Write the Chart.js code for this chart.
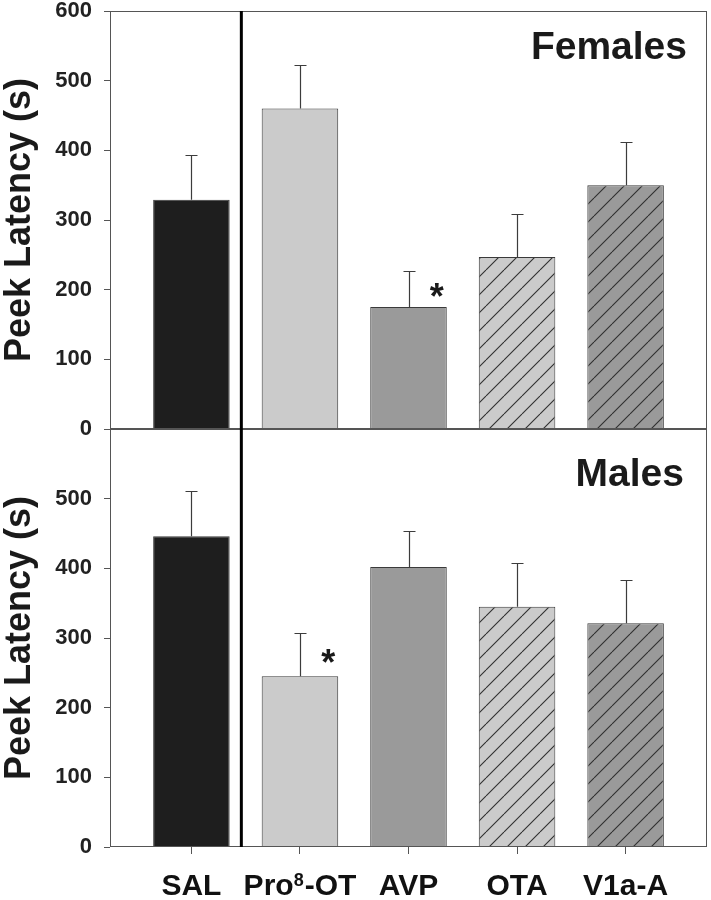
<!DOCTYPE html>
<html>
<head>
<meta charset="utf-8">
<script src="https://cdn.jsdelivr.net/npm/chart.js@4.4.1/dist/chart.umd.min.js"></script>
<style>
    body { margin: 0; background: #fff; }
    #wrap { position: relative; width: 711px; height: 900px; }
    canvas { position: absolute; left: 0; }
</style>
</head>
<body>
<div id="wrap">
    <canvas id="femaleChart" width="711" height="440" style="top:0"></canvas>
    <canvas id="maleChart" width="711" height="482" style="top:418px"></canvas>
</div>
<script>
// Data
const categories = ['SAL', 'Pro\u2078-OT', 'AVP', 'OTA', 'V1a-A'];
const femaleMeans = [329, 460, 175, 247, 350];
const femaleErr = [65, 62, 52, 62, 62];
const femaleSig = [false, false, true, false, false];
const maleMeans = [446, 245, 402, 345, 321];
const maleErr = [65, 62, 52, 62, 62];
const maleSig = [false, true, false, false, false];
const yTicks = [0, 100, 200, 300, 400, 500, 600];
const yTitle = 'Peek Latency (s)';
const dividerAt = 1.46; // between SAL and the drug groups

// Styles
const FONT = '"Liberation Sans", Arial, sans-serif';
const fills = ['#1e1e1e', '#cbcbcb', '#9a9a9a', '#cbcbcb', '#9a9a9a'];
const hatched = [false, false, false, true, true];
const SUPERS = '\u2070\u00b9\u00b2\u00b3\u2074\u2075\u2076\u2077\u2078\u2079';

function hatch(base) {
    const P = 18;
    const c = document.createElement('canvas');
    c.width = c.height = P;
    const g = c.getContext('2d');
    g.fillStyle = base;
    g.fillRect(0, 0, P, P);
    g.strokeStyle = '#2e2e2e';
    g.lineWidth = 1.1;
    for (const k of [-P, 0, P]) {
        g.beginPath();
        g.moveTo(k, P);
        g.lineTo(k + P, 0);
        g.stroke();
    }
    return g.createPattern(c, 'repeat');
}

const barFills = fills.map((f, i) => hatched[i] ? hatch(f) : f);

// split a label into normal / superscript runs
function labelRuns(text) {
    const runs = [];
    for (const ch of text) {
        const d = SUPERS.indexOf(ch);
        const sup = d >= 0;
        const t = sup ? String(d) : ch;
        const last = runs[runs.length - 1];
        if (last && last.sup === sup) last.text += t;
        else runs.push({ text: t, sup });
    }
    return runs;
}

// Frame, divider, error bars, panel label, asterisks, category labels
const panelDecor = {
    id: 'panelDecor',
    afterDatasetsDraw(chart, args, opts) {
        const { ctx, chartArea: a, scales: { x, y } } = chart;
        ctx.save();

        // error bars (upper only)
        ctx.strokeStyle = '#3c3c3c';
        ctx.lineWidth = 1.2;
        opts.means.forEach((m, i) => {
            const px = Math.round(x.getPixelForValue(i + 1)) + 0.5;
            const y0 = y.getPixelForValue(m);
            const y1 = Math.round(y.getPixelForValue(m + opts.errors[i])) + 0.5;
            ctx.beginPath();
            ctx.moveTo(px, y0);
            ctx.lineTo(px, y1);
            ctx.moveTo(px - 6, y1);
            ctx.lineTo(px + 6, y1);
            ctx.stroke();
        });

        // frame
        ctx.strokeStyle = '#555';
        ctx.lineWidth = 1;
        ctx.strokeRect(a.left + 0.5, a.top + 0.5, a.width - 1, a.height - 1);

        // divider
        const dx = x.getPixelForValue(dividerAt);
        ctx.strokeStyle = '#000';
        ctx.lineWidth = 3;
        ctx.beginPath();
        ctx.moveTo(dx, a.top);
        ctx.lineTo(dx, a.bottom);
        ctx.stroke();

        // panel label
        ctx.fillStyle = '#1a1a1a';
        ctx.font = 'bold 39px ' + FONT;
        ctx.textAlign = 'right';
        ctx.textBaseline = 'alphabetic';
        ctx.fillText(opts.title, a.right - opts.titleRight, a.top + opts.titleBase);

        // significance asterisks
        ctx.font = 'bold 36px ' + FONT;
        ctx.textAlign = 'center';
        opts.sig.forEach((s, i) => {
            if (!s) return;
            const m = opts.means[i];
            const cx = x.getPixelForValue(i + 1.26);
            const cy = y.getPixelForValue(m + opts.errors[i] / 2);
            ctx.fillText('*', cx, cy + 20);
        });

        // category labels (with real superscripts)
        if (opts.labels) {
            const base = a.bottom + 48;
            const big = 'bold 30px ' + FONT, small = 'bold 18px ' + FONT;
            ctx.fillStyle = '#111';
            ctx.textAlign = 'left';
            categories.forEach((c, i) => {
                const runs = labelRuns(c);
                let w = 0;
                runs.forEach(r => { ctx.font = r.sup ? small : big; r.w = ctx.measureText(r.text).width + (r.sup ? 1 : 0); w += r.w; });
                let px = x.getPixelForValue(i + 1) - w / 2;
                runs.forEach(r => {
                    ctx.font = r.sup ? small : big;
                    ctx.fillText(r.text, px, r.sup ? base - 9.5 : base);
                    px += r.w;
                });
            });
        }

        ctx.restore();
    }
};

function yScale(showTop) {
    return {
        min: 0,
        max: 600,
        afterBuildTicks: s => { s.ticks = yTicks.map(v => ({ value: v })); },
        afterFit: s => { s.width = 110; s.paddingTop = 0; s.paddingBottom = 0; },
        ticks: {
            color: '#222',
            font: { size: 22, weight: 'bold', family: FONT },
            padding: 12,
            callback: v => (showTop || v < 600) ? String(v) : ''
        },
        grid: { drawOnChartArea: false, tickLength: 6, color: '#555', tickColor: '#555' },
        border: { display: false },
        title: {
            display: true,
            text: yTitle,
            color: '#1a1a1a',
            font: { size: 36, weight: 'bold', family: FONT, lineHeight: 1.1 },
            padding: 0
        }
    };
}

function xScale(show) {
    return {
        type: 'linear',
        display: show,
        min: 0.25,
        max: 5.75,
        offset: false,
        afterBuildTicks: s => { s.ticks = categories.map((c, i) => ({ value: i + 1 })); },
        afterFit: s => {
            if (show) s.height = 53;
            s.paddingLeft = 0;
            s.paddingRight = 0;
        },
        ticks: {
            autoSkip: false,
            maxRotation: 0,
            font: { size: 10, family: FONT },
            callback: () => ''
        },
        grid: { drawOnChartArea: false, offset: false, tickLength: 7, color: '#555', tickColor: '#555' },
        border: { display: false }
    };
}

function makePanel(id, means, errors, sig, title, isBottom, titleRight, titleBase) {
    const ctx = document.getElementById(id).getContext('2d');
    return new Chart(ctx, {
        type: 'bar',
        data: {
            datasets: [{
                data: means.map((m, i) => ({ x: i + 1, y: m })),
                backgroundColor: barFills,
                borderColor: '#3a3a3a',
                borderWidth: 1,
                categoryPercentage: 1,
                barPercentage: 0.705
            }]
        },
        options: {
            responsive: false,
            devicePixelRatio: 1,
            animation: false,
            layout: { padding: { top: 11, right: 4, left: 0, bottom: isBottom ? 0 : 11 } },
            plugins: {
                legend: { display: false },
                tooltip: { enabled: false },
                panelDecor: { means, errors, sig, title, titleRight, titleBase, labels: isBottom }
            },
            scales: {
                x: xScale(isBottom),
                y: yScale(!isBottom)
            }
        },
        plugins: [panelDecor]
    });
}

makePanel('femaleChart', femaleMeans, femaleErr, femaleSig, 'Females', false, 20, 48);
makePanel('maleChart', maleMeans, maleErr, maleSig, 'Males', true, 23, 57);
</script>
</body>
</html>
